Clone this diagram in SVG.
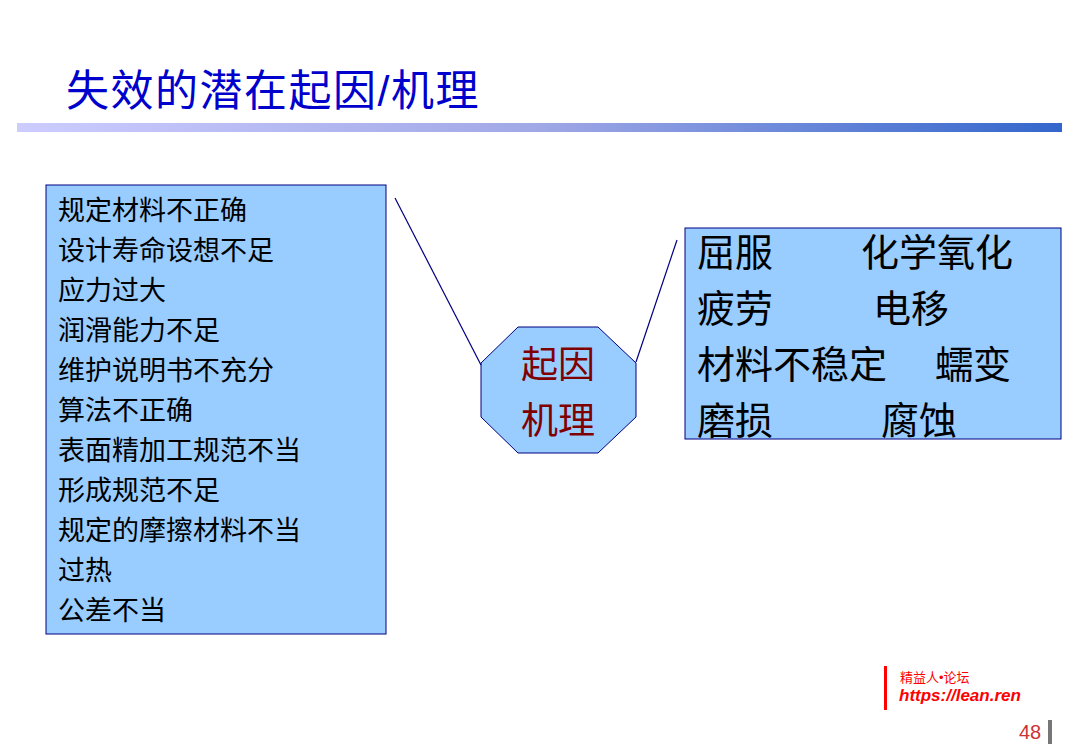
<svg xmlns="http://www.w3.org/2000/svg" width="1083" height="750" viewBox="0 0 1083 750">
<defs>
<linearGradient id="bar" x1="0" x2="1" y1="0" y2="0"><stop offset="0" stop-color="#ccccff"/><stop offset="0.5" stop-color="#a0a8e6"/><stop offset="1" stop-color="#3366cc"/></linearGradient>
<style>
.box{fill:#99ccff;stroke:#000080;stroke-width:1}
.t{font-family:"Liberation Sans","Noto Sans CJK SC",sans-serif}
.l{font-size:27px;fill:#000}
.r{font-size:38px;fill:#000}
.c{stroke:#000080;stroke-width:1.2;fill:none}
</style>
</defs>
<rect width="1083" height="750" fill="#fff"/>
<text class="t" x="66" y="106" font-size="43" letter-spacing="1.5" fill="#0000cc">失效的潜在起因/机理</text>
<rect x="17" y="123" width="1045" height="9" fill="url(#bar)"/>
<g id="causes">
<rect class="box" x="46" y="185" width="340" height="449"/>
<g class="t l">
<text x="58" y="220">规定材料不正确</text>
<text x="58" y="260">设计寿命设想不足</text>
<text x="58" y="300">应力过大</text>
<text x="58" y="340">润滑能力不足</text>
<text x="58" y="380">维护说明书不充分</text>
<text x="58" y="420">算法不正确</text>
<text x="58" y="460">表面精加工规范不当</text>
<text x="58" y="500">形成规范不足</text>
<text x="58" y="540">规定的摩擦材料不当</text>
<text x="58" y="580">过热</text>
<text x="58" y="620">公差不当</text>
</g>
</g>
<g id="center">
<polygon class="box" points="518,327 598,327 636,363 636,417 598,453 518,453 481,417 481,363"/>
<text class="t" x="558" y="378" font-size="37" fill="#800000" text-anchor="middle">起因</text>
<text class="t" x="558" y="434" font-size="37" fill="#800000" text-anchor="middle">机理</text>
</g>
<g id="mechanisms">
<rect class="box" x="685" y="228" width="376" height="211"/>
<g class="t r">
<text x="697" y="266">屈服</text><text x="861" y="266">化学氧化</text>
<text x="697" y="322">疲劳</text><text x="873" y="322">电移</text>
<text x="697" y="378">材料不稳定</text><text x="935" y="378">蠕变</text>
<text x="697" y="434">磨损</text><text x="881" y="434">腐蚀</text>
</g>
</g>
<g id="connectors">
<line class="c" x1="395" y1="198" x2="481" y2="365"/>
<line class="c" x1="677" y1="240" x2="636" y2="362"/>
</g>
<g id="footer">
<rect x="884" y="666" width="3" height="44" fill="#ff0000"/>
<text class="t" x="900" y="682" font-size="13" fill="#ff0000">精益人•论坛</text>
<text class="t" x="899" y="701" font-size="17" font-weight="bold" font-style="italic" fill="#ff0000">https://lean.ren</text>
<text class="t" x="1019" y="739" font-size="20" fill="#cc3333">48</text>
<rect x="1048" y="720" width="4" height="24" fill="#777"/>
</g>
</svg>
